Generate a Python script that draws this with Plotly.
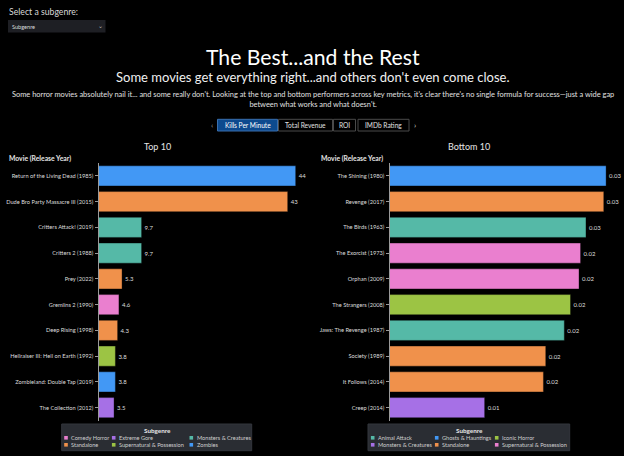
import plotly.graph_objects as go

W, H = 624, 456

# ---------------- data ----------------
top_movies = ["Return of the Living Dead (1985)", "Dude Bro Party Massacre III (2015)",
              "Critters Attack! (2019)", "Critters 2 (1988)", "Prey (2022)",
              "Gremlins 2 (1990)", "Deep Rising (1998)", "Hellraiser III: Hell on Earth (1992)",
              "Zombieland: Double Tap (2019)", "The Collection (2012)"]
top_values = [44.4, 42.6, 9.7, 9.7, 5.3, 4.6, 4.3, 3.8, 3.8, 3.5]
top_subgenres = ["Zombies", "Standalone", "Monsters & Creatures", "Monsters & Creatures",
                 "Standalone", "Comedy Horror", "Standalone", "Supernatural & Possession",
                 "Zombies", "Extreme Gore"]
top_legend = ["Comedy Horror", "Extreme Gore", "Monsters & Creatures",
              "Standalone", "Supernatural & Possession", "Zombies"]
top_colors = {"Comedy Horror": "#ea7fcf", "Extreme Gore": "#a670e6",
              "Monsters & Creatures": "#55b9a7", "Standalone": "#f0914b",
              "Supernatural & Possession": "#9cc444", "Zombies": "#4298f5"}

bottom_movies = ["The Shining (1980)", "Revenge (2017)", "The Birds (1963)",
                 "The Exorcist (1973)", "Orphan (2009)", "The Strangers (2008)",
                 "Jaws: The Revenge (1987)", "Society (1989)", "It Follows (2014)",
                 "Creep (2014)"]
bottom_values = [0.0280, 0.0277, 0.0254, 0.0247, 0.0245, 0.0234, 0.0226, 0.0202, 0.0199, 0.0123]
bottom_subgenres = ["Ghosts & Hauntings", "Standalone", "Animal Attack",
                    "Supernatural & Possession", "Supernatural & Possession", "Iconic Horror",
                    "Animal Attack", "Standalone", "Standalone", "Monsters & Creatures"]
bottom_legend = ["Animal Attack", "Ghosts & Hauntings", "Iconic Horror",
                 "Monsters & Creatures", "Standalone", "Supernatural & Possession"]
bottom_colors = {"Animal Attack": "#55b9a7", "Ghosts & Hauntings": "#4298f5",
                 "Iconic Horror": "#9cc444", "Monsters & Creatures": "#a670e6",
                 "Standalone": "#f0914b", "Supernatural & Possession": "#ea7fcf"}

tabs = ["Kills Per Minute", "Total Revenue", "ROI", "IMDb Rating"]

FONT = "Lato"
BG = "#000000"


def px(x):
    return x / W


def py(y):
    return 1 - y / H


fig = go.Figure()

fig.add_trace(go.Bar(
    x=top_values, y=top_movies, orientation="h",
    marker=dict(color=[top_colors[s] for s in top_subgenres],
                line=dict(color="rgba(0,0,0,0.35)", width=1)),
    texttemplate="%{x:.2}", textposition="outside", cliponaxis=False,
    textfont=dict(size=6, color="#dddddd", family=FONT),
    xaxis="x", yaxis="y", showlegend=False))

fig.add_trace(go.Bar(
    x=bottom_values, y=bottom_movies, orientation="h",
    marker=dict(color=[bottom_colors[s] for s in bottom_subgenres],
                line=dict(color="rgba(0,0,0,0.35)", width=1)),
    texttemplate="%{x:.2f}", textposition="outside", cliponaxis=False,
    textfont=dict(size=6, color="#dddddd", family=FONT),
    xaxis="x2", yaxis="y2", showlegend=False))

ydom = [py(420.5), py(163)]
yax = dict(autorange="reversed", showline=True, linecolor="#9a9a9a", linewidth=1,
           ticks="outside", ticklen=3, tickcolor="#9a9a9a", showgrid=False,
           tickfont=dict(size=5.7, color="#dddddd", family=FONT), domain=ydom)
fig.update_layout(
    width=W, height=H, margin=dict(l=0, r=0, t=0, b=0, autoexpand=False),
    paper_bgcolor=BG, plot_bgcolor=BG, bargap=0.22,
    font=dict(family=FONT, color="#e6e6e6"),
    xaxis=dict(domain=[px(98.5), px(305)], range=[0, 46.5], visible=False),
    yaxis=dict(anchor="x", **yax),
    xaxis2=dict(domain=[px(389.5), px(620)], range=[0, 0.0298], visible=False),
    yaxis2=dict(anchor="x2", **yax),
)

ann = []
shapes = []


def text(x, y, s, size, color="#e6e6e6", xanchor="center", bold=False, family=FONT):
    if bold:
        s = "<b>" + s + "</b>"
    ann.append(dict(x=px(x), y=py(y), xref="paper", yref="paper", text=s, showarrow=False,
                    xanchor=xanchor, yanchor="middle", align="center",
                    font=dict(size=size, color=color, family=family)))


# dropdown
text(6.5, 12, "Select a subgenre:", 8.7, "#d8d8d8", xanchor="left")
shapes.append(dict(type="rect", xref="paper", yref="paper", x0=px(8), x1=px(105.5),
                   y0=py(32.5), y1=py(20), fillcolor="#1e1f24", line=dict(width=0)))
text(9.5, 26.5, "Subgenre", 5.6, "#dcdcdc", xanchor="left")
text(100.5, 26, "⌄", 6, "#bbbbbb")

# titles
text(313, 57, "The Best...and the Rest", 21.2, "#ffffff")
text(313, 77.5, "Some movies get everything right...and others don't even come close.", 13, "#f0f0f0")
ann.append(dict(x=px(313), y=py(99.5), xref="paper", yref="paper", showarrow=False,
                xanchor="center", yanchor="middle", align="center",
                text="Some horror movies absolutely nail it... and some really don't. Looking at the top and bottom "
                     "performers across key metrics, it's clear there's no single formula for success—just a wide gap"
                     "<br>between what works and what doesn't.",
                font=dict(size=7.45, color="#e0e0e0", family=FONT)))

# tabs
tab_x = [(217.5, 277.5), (278.5, 332.5), (333.5, 355.5), (358, 409)]
for i, (lab, (a, b)) in enumerate(zip(tabs, tab_x)):
    active = i == 0
    shapes.append(dict(type="rect", xref="paper", yref="paper", x0=px(a), x1=px(b),
                       y0=py(131), y1=py(119.3),
                       fillcolor="#0d4a8e" if active else "#000000",
                       line=dict(color="#3a6fae" if active else "#4a4a4a", width=1)))
    text((a + b) / 2, 125.3, lab, 6.6, "#ffffff" if active else "#e0e0e0")
text(211.5, 125, "‹", 8, "#9a9a9a")
text(414.5, 125, "›", 8, "#cfcfcf")

# panel titles
text(157.5, 146.5, "Top 10", 9, "#e6e6e6")
text(469, 146.5, "Bottom 10", 9, "#e6e6e6")
text(7, 159, "Movie (Release Year)", 6.8, "#e6e6e6", xanchor="left", bold=True)
text(319, 159, "Movie (Release Year)", 6.8, "#e6e6e6", xanchor="left", bold=True)


# custom legends
def legend(x0, x1, title_x, col_x, items, cmap):
    shapes.append(dict(type="rect", xref="paper", yref="paper", x0=px(x0), x1=px(x1),
                       y0=py(450.7), y1=py(424), fillcolor="#2a2d33",
                       line=dict(color="#33363d", width=1)))
    text(title_x, 430.7, "Subgenre", 6.3, "#e6e6e6", bold=True)
    rows = [437.8, 444.8]
    for k, name in enumerate(items):
        cx = col_x[k % 3]
        cy = rows[k // 3]
        shapes.append(dict(type="rect", xref="paper", yref="paper", x0=px(cx - 1.8), x1=px(cx + 1.8),
                           y0=py(cy + 1.8), y1=py(cy - 1.8), fillcolor=cmap[name], line=dict(width=0)))
        text(cx + 3.2, cy, name, 5.6, "#d0d0d0", xanchor="left")


legend(61.7, 251.7, 157, [66, 113.7, 191.3], top_legend, top_colors)
legend(368, 569.7, 469, [372.7, 436.7, 496.7], bottom_legend, bottom_colors)

fig.update_layout(annotations=ann, shapes=shapes)
fig.write_html("out.html")
